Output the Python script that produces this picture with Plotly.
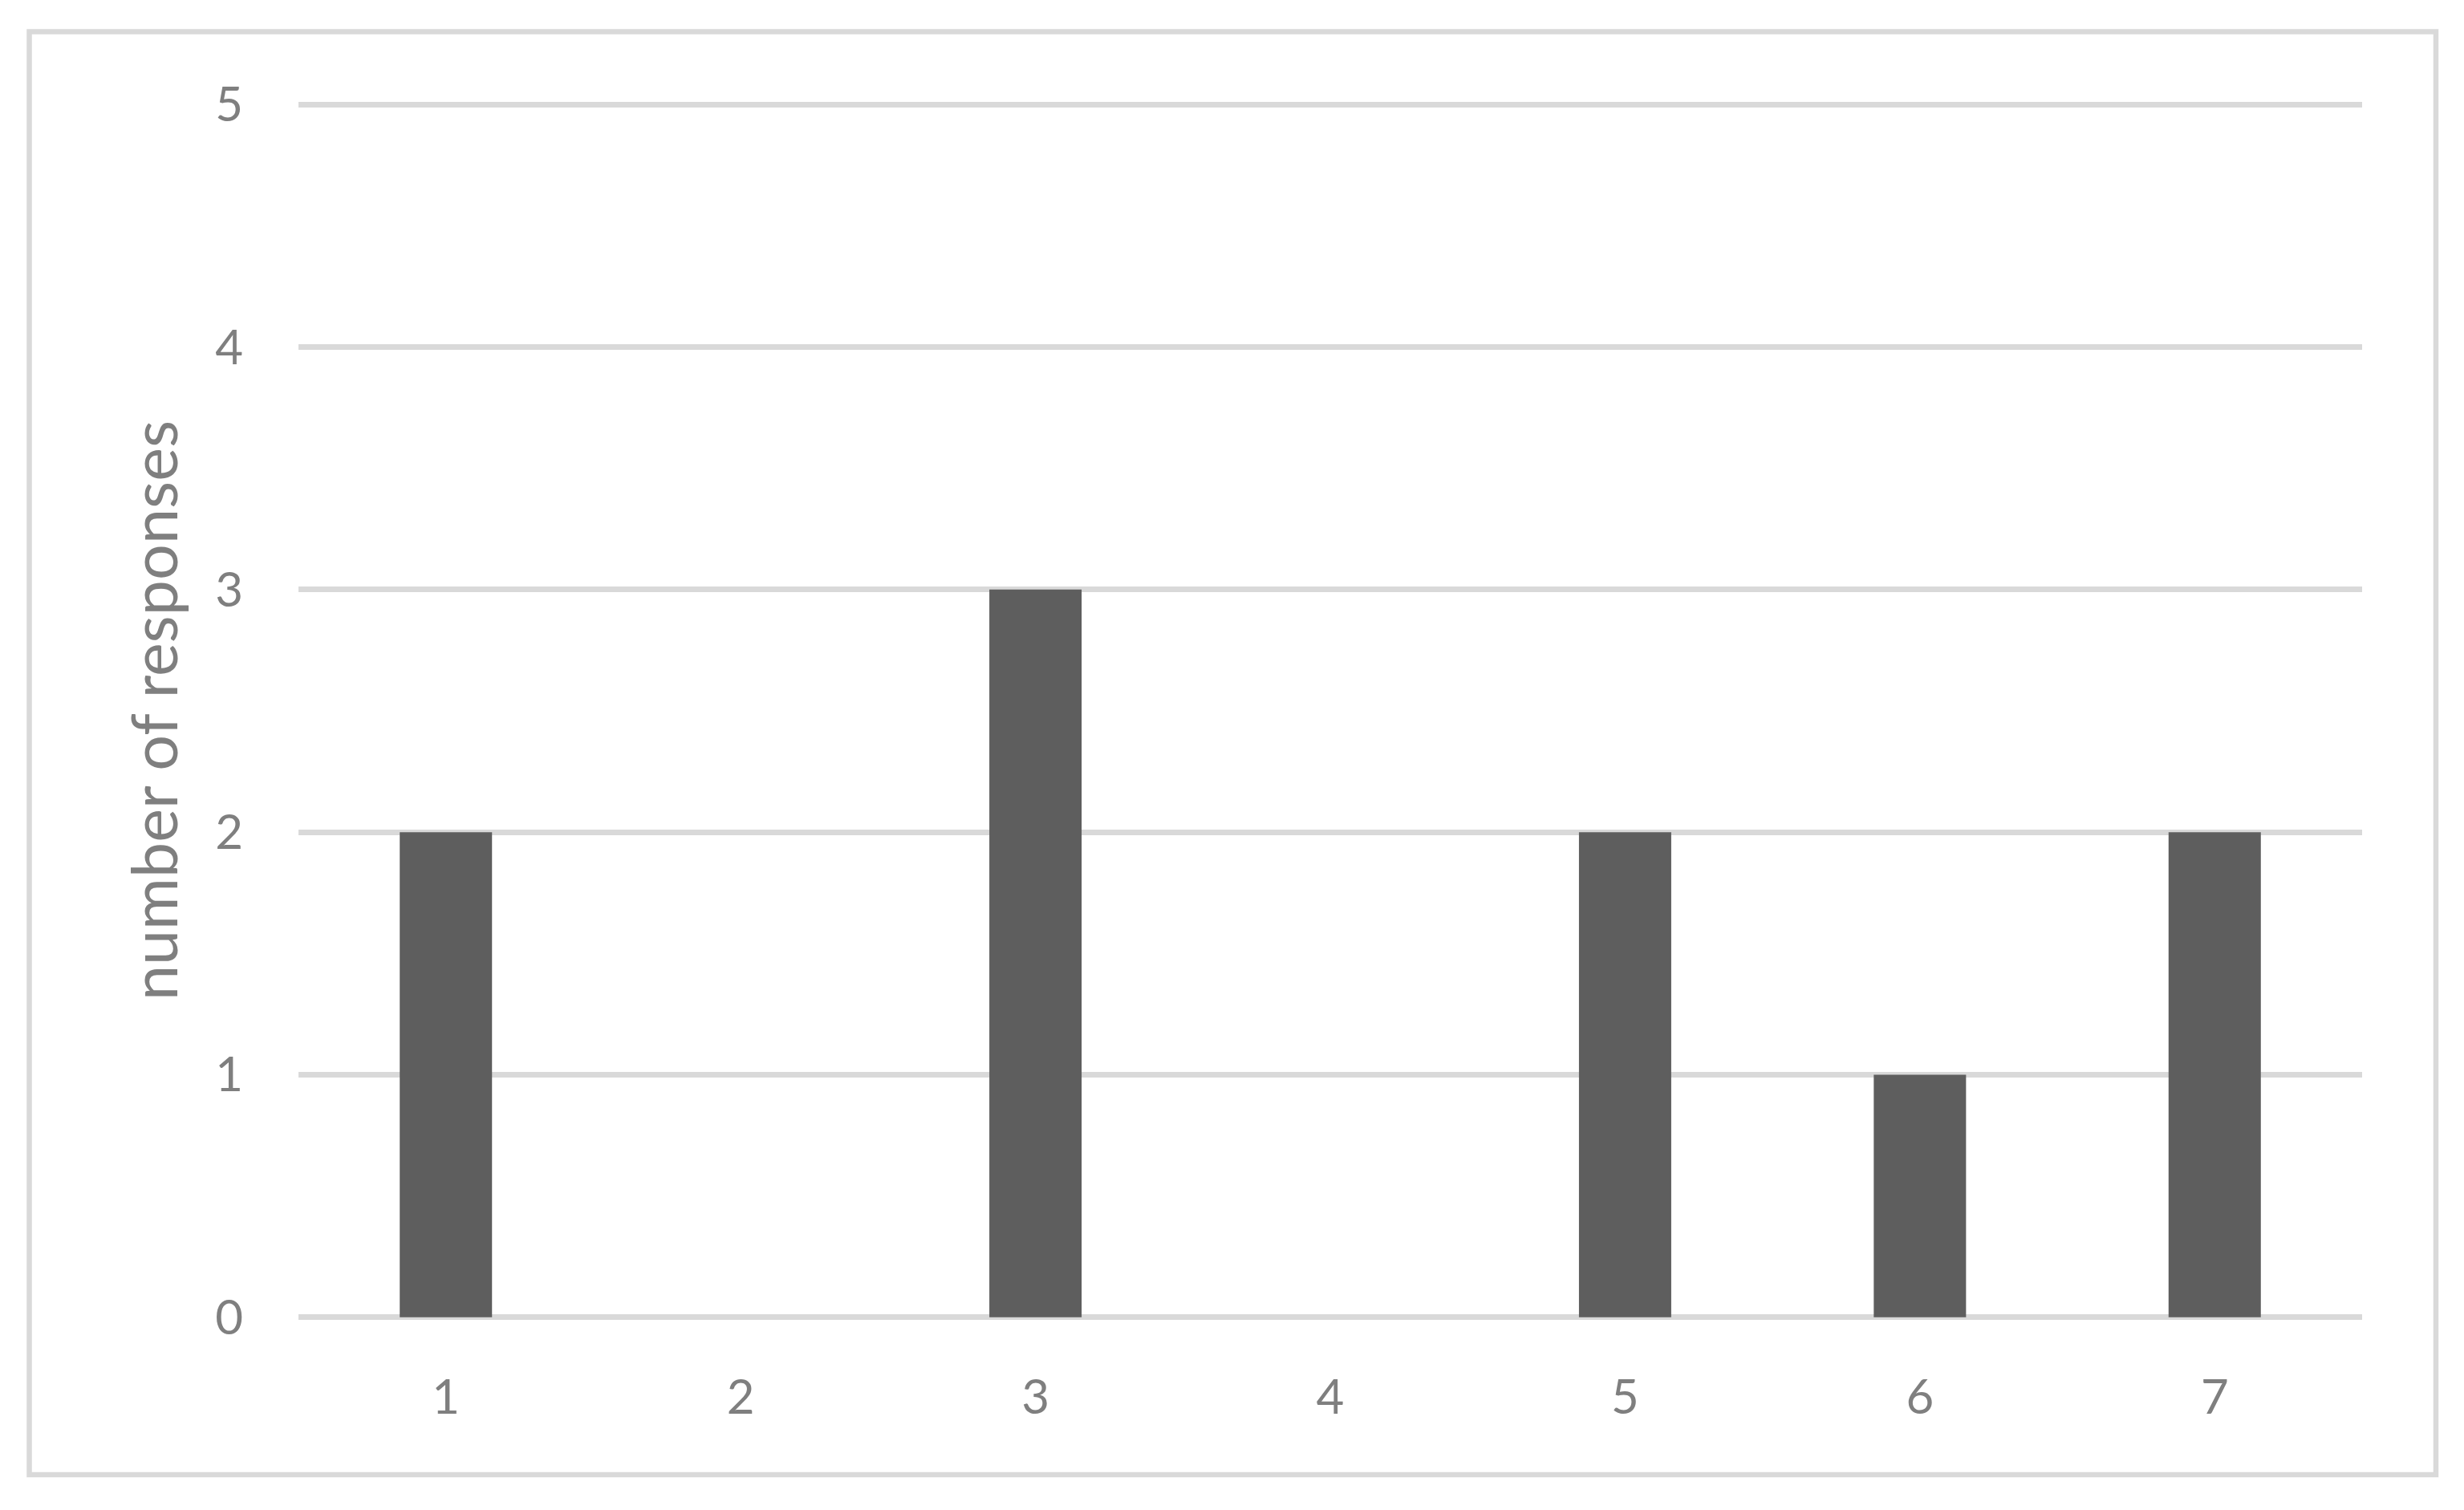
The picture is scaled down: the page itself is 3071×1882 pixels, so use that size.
import plotly.graph_objects as go

# Data
categories = ["1", "2", "3", "4", "5", "6", "7"]
responses = [2, 0, 3, 0, 2, 1, 2]
y_ticks = [0, 1, 2, 3, 4, 5]

# page body has an 8px margin, so the figure is drawn 8px in from the corner
OFF = 8
W, H = 3071 - OFF, 1882 - OFF
# plot area in screen pixels
left, right, top, bottom = 372 - OFF, 2944 - OFF, 129 - OFF, 1643 - OFF
pw, ph = right - left, bottom - top

def px_x(p):
    return (p - OFF - left) / pw

def px_y(p):
    return (bottom - (p - OFF)) / ph

grey_txt = "#7f7f7f"
grid = "#d9d9d9"
pad = 0.004  # keeps the gridlines at 0 and 5 inside the plot

fig = go.Figure()

fig.add_trace(go.Bar(
    x=categories,
    y=responses,
    base=0,
    marker=dict(color="#5e5e5e", line=dict(width=0)),
    width=0.313,
))

fig.update_layout(
    width=W, height=H,
    margin=dict(l=left, r=W - right, t=top, b=H - bottom, pad=0),
    paper_bgcolor="white",
    plot_bgcolor="white",
    showlegend=False,
    font=dict(family="Lato", color=grey_txt, size=60),
    xaxis=dict(
        type="category",
        showgrid=False, zeroline=False, showline=False,
        ticks="outside", ticklen=46, tickcolor="rgba(0,0,0,0)",
        tickfont=dict(size=60, color=grey_txt),
    ),
    yaxis=dict(
        range=[-pad, 5 + pad],
        tickvals=y_ticks,
        showgrid=True, gridcolor=grid, gridwidth=6.5,
        zeroline=False, showline=False,
        ticks="outside", ticklen=56, tickcolor="rgba(0,0,0,0)",
        tickfont=dict(size=60, color=grey_txt),
    ),
)

# y axis title
fig.add_annotation(
    text="number of responses",
    xref="paper", yref="paper",
    x=px_x(190), y=px_y(886),
    xanchor="center", yanchor="middle",
    textangle=-90, showarrow=False,
    font=dict(size=79, color=grey_txt, family="Lato"),
)

# chart border
fig.add_shape(
    type="rect", xref="paper", yref="paper",
    x0=px_x(36.5), x1=px_x(3036), y0=px_y(1838), y1=px_y(39.5),
    line=dict(color=grid, width=6.5),
    layer="below",
)

fig.write_html("out.html")
